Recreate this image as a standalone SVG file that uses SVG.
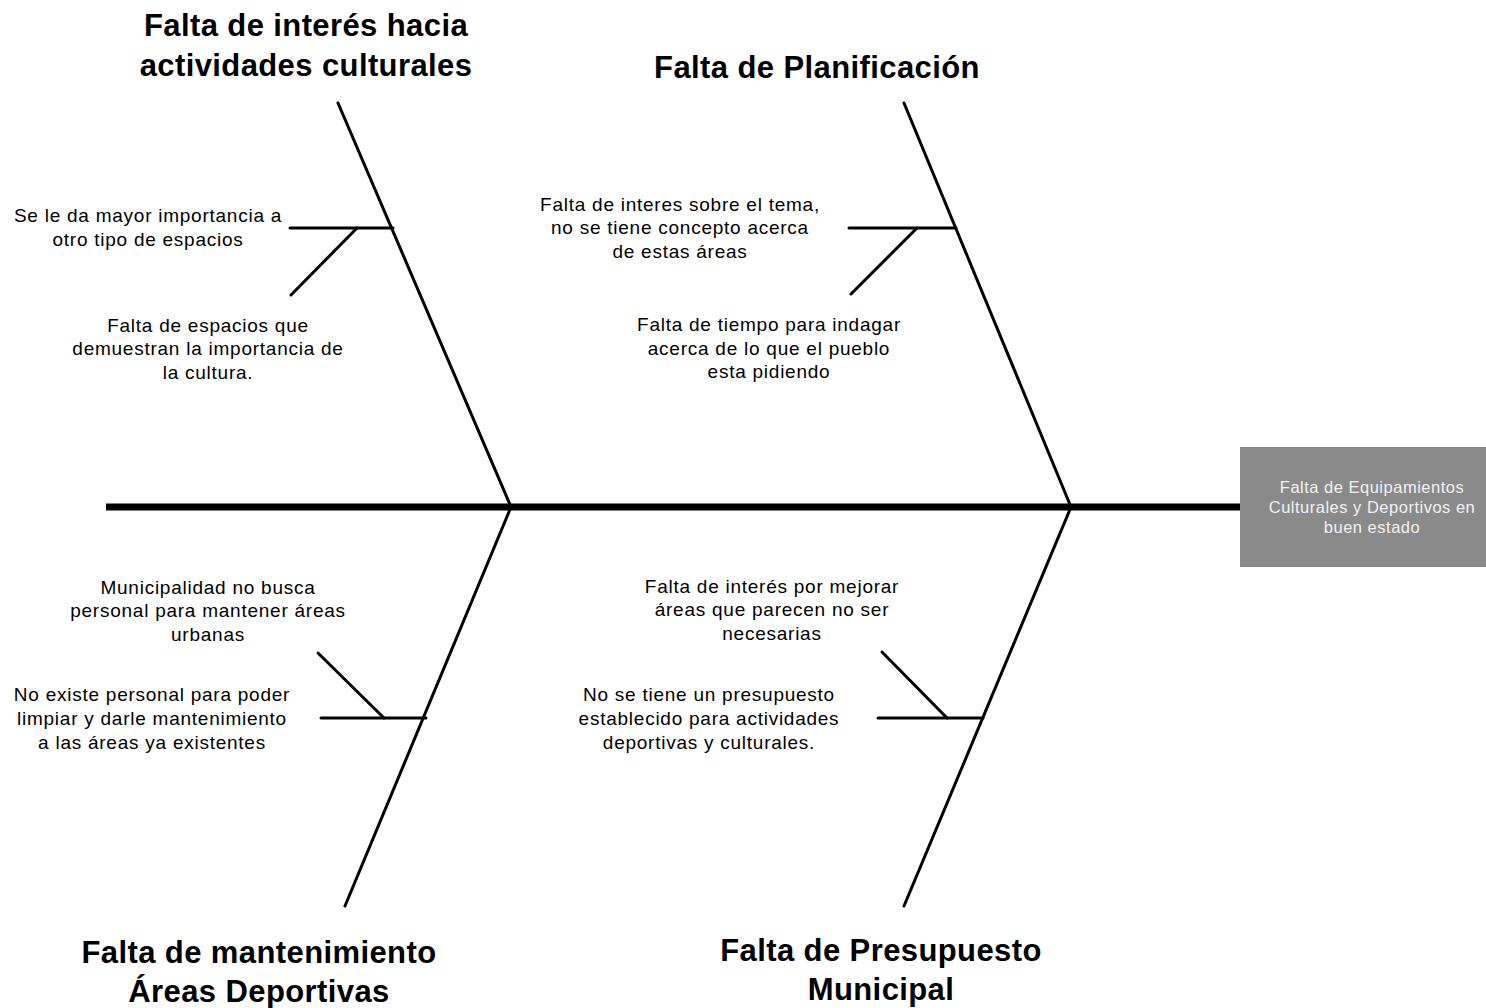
<svg xmlns="http://www.w3.org/2000/svg" width="1486" height="1008" viewBox="0 0 1486 1008">
<style>
.t{font-family:"Liberation Sans",Arial,sans-serif;font-size:31px;letter-spacing:0.4px;font-weight:bold;fill:#000;text-anchor:middle}
.l{font-family:"Liberation Sans",Arial,sans-serif;font-size:19px;letter-spacing:0.75px;fill:#000;text-anchor:middle}
.b{font-family:"Liberation Sans",Arial,sans-serif;font-size:16.5px;letter-spacing:0.5px;fill:#f2f2f2;text-anchor:middle}
.bone{stroke:#000;stroke-width:3;fill:none;stroke-linecap:round}
.spine{stroke:#000;stroke-width:7;fill:none}
</style>
<rect width="1486" height="1008" fill="#fff"/>
<g id="connectors">
<line class="spine" x1="106" y1="507" x2="1242" y2="507"/>
<line class="bone" x1="338" y1="103" x2="511" y2="507"/>
<line class="bone" x1="511" y1="507" x2="345" y2="906"/>
<line class="bone" x1="904" y1="103" x2="1071" y2="507"/>
<line class="bone" x1="1071" y1="507" x2="904" y2="906"/>
<line class="bone" x1="290" y1="228" x2="393" y2="228"/>
<line class="bone" x1="357" y1="228" x2="291" y2="295"/>
<line class="bone" x1="849" y1="228" x2="956" y2="228"/>
<line class="bone" x1="917" y1="228" x2="851" y2="294"/>
<line class="bone" x1="321" y1="718" x2="426" y2="718"/>
<line class="bone" x1="318" y1="653" x2="384" y2="718"/>
<line class="bone" x1="878" y1="718" x2="983" y2="718"/>
<line class="bone" x1="882" y1="652" x2="947" y2="718"/>
</g>
<g id="effect">
<rect x="1240" y="447" width="246" height="120" fill="#8a8a8a"/>
<text class="b" x="1372" y="493">Falta de Equipamientos</text>
<text class="b" x="1372" y="513">Culturales y Deportivos en</text>
<text class="b" x="1372" y="533">buen estado</text>
</g>
<g id="cat1">
<text class="t" x="306" y="36">Falta de interés hacia</text>
<text class="t" x="306" y="76">actividades culturales</text>
</g>
<g id="cat2">
<text class="t" x="817" y="78">Falta de Planificación</text>
</g>
<g id="cat3">
<text class="t" x="259" y="963">Falta de mantenimiento</text>
<text class="t" x="259" y="1002">Áreas Deportivas</text>
</g>
<g id="cat4">
<text class="t" x="881" y="961">Falta de Presupuesto</text>
<text class="t" x="881" y="1000">Municipal</text>
</g>
<g id="cause1">
<text class="l" x="148" y="222">Se le da mayor importancia a</text>
<text class="l" x="148" y="246">otro tipo de espacios</text>
</g>
<g id="cause2">
<text class="l" x="208" y="332">Falta de espacios que</text>
<text class="l" x="208" y="355">demuestran la importancia de</text>
<text class="l" x="208" y="379">la cultura.</text>
</g>
<g id="cause3">
<text class="l" x="680" y="211">Falta de interes sobre el tema,</text>
<text class="l" x="680" y="234">no se tiene concepto acerca</text>
<text class="l" x="680" y="258">de estas áreas</text>
</g>
<g id="cause4">
<text class="l" x="769" y="331">Falta de tiempo para indagar</text>
<text class="l" x="769" y="355">acerca de lo que el pueblo</text>
<text class="l" x="769" y="378">esta pidiendo</text>
</g>
<g id="cause5">
<text class="l" x="208" y="594">Municipalidad no busca</text>
<text class="l" x="208" y="617">personal para mantener áreas</text>
<text class="l" x="208" y="641">urbanas</text>
</g>
<g id="cause6">
<text class="l" x="152" y="701">No existe personal para poder</text>
<text class="l" x="152" y="725">limpiar y darle mantenimiento</text>
<text class="l" x="152" y="749">a las áreas ya existentes</text>
</g>
<g id="cause7">
<text class="l" x="772" y="593">Falta de interés por mejorar</text>
<text class="l" x="772" y="616">áreas que parecen no ser</text>
<text class="l" x="772" y="640">necesarias</text>
</g>
<g id="cause8">
<text class="l" x="709" y="701">No se tiene un presupuesto</text>
<text class="l" x="709" y="725">establecido para actividades</text>
<text class="l" x="709" y="749">deportivas y culturales.</text>
</g>
</svg>
